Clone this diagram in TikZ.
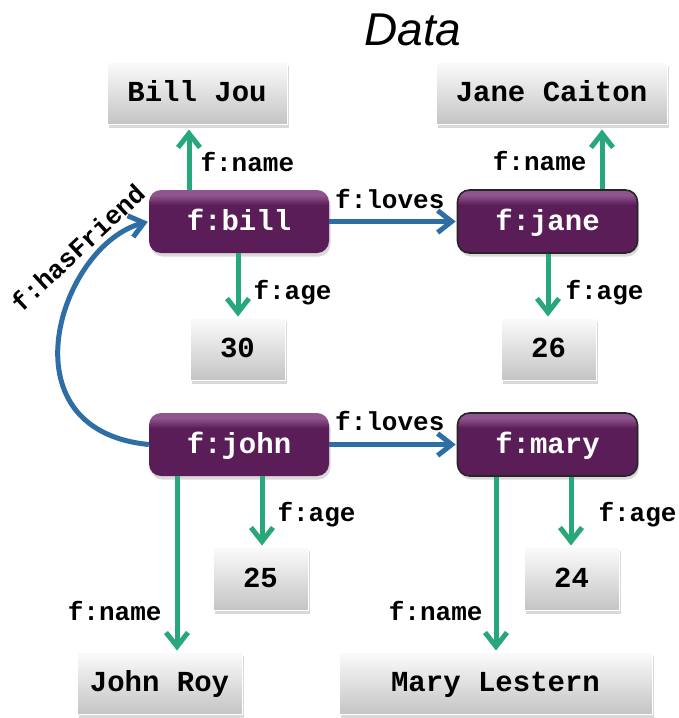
\documentclass[tikz,border=0pt]{standalone}
\usepackage{fontspec}
\setmainfont{Liberation Serif}
\setsansfont{Liberation Sans}
\setmonofont{Liberation Mono}
\usetikzlibrary{arrows.meta,shadows}

\definecolor{propgreen}{RGB}{40,168,122}
\definecolor{relblue}{RGB}{47,110,165}
\definecolor{resdark}{RGB}{90,29,88}
\definecolor{reslight}{RGB}{145,85,142}

% resource boxes: dark purple with a light band along the top edge
\pgfdeclareverticalshading{resshade}{100bp}{%
  color(0bp)=(resdark); color(25bp)=(resdark); color(63bp)=(resdark);
  color(71bp)=(reslight); color(75bp)=(reslight); color(100bp)=(reslight)}

\tikzset{
  boxshadow/.style={drop shadow={shadow xshift=1.5pt,shadow yshift=-3.5pt,opacity=0.3}},
  valbox/.style={rectangle, inner sep=0pt, top color=gray!3, bottom color=gray!46,
    draw=white, line width=1pt, boxshadow,
    font=\ttfamily\bfseries\fontsize{29}{30}\selectfont, text height=17pt, text depth=0pt},
  resbox/.style={rectangle, rounded corners=12pt, inner sep=0pt,
    minimum width=180pt, minimum height=63pt, shading=resshade, boxshadow,
    text=white, font=\ttfamily\bfseries\fontsize{29}{30}\selectfont,
    text height=17pt, text depth=0pt},
  outlined/.style={draw=black!85, line width=1.6pt},
  tipshape/.style={-{Straight Barb[length=14pt,width=22pt]}},
  prop/.style={draw=propgreen, line width=5pt, tipshape},
  rel/.style={draw=relblue, line width=5pt, tipshape},
  lbl/.style={inner sep=0pt, text=black, font=\ttfamily\bfseries\fontsize{26}{27}\selectfont,
    text height=15pt, text depth=0pt},
}

\begin{document}
\begin{tikzpicture}[x=1pt,y=-1pt]
\useasboundingbox (0,0) rectangle (679,718);

\node[font=\sffamily\itshape\fontsize{46}{48}\selectfont] (title) at (413,30) {Data};

% literal values
\node[valbox, minimum width=180pt, minimum height=62pt] (billname) at (197,93) {Bill Jou};
\node[valbox, minimum width=231pt, minimum height=62pt] (janename) at (551.5,93) {Jane Caiton};
\node[valbox, minimum width=95pt, minimum height=62pt] (billage) at (237.5,349) {30};
\node[valbox, minimum width=95pt, minimum height=62pt] (janeage) at (548.5,349) {26};
\node[valbox, minimum width=95pt, minimum height=63pt] (johnage) at (260.5,578.5) {25};
\node[valbox, minimum width=95pt, minimum height=63pt] (maryage) at (571.5,578.5) {24};
\node[valbox, minimum width=165pt, minimum height=62pt] (johnname) at (159.5,683) {John Roy};
\node[valbox, minimum width=313pt, minimum height=62pt] (maryname) at (495.5,683) {Mary Lestern};

% resources
\node[resbox] (bill) at (239,221.5) {f:bill};
\node[resbox, outlined] (jane) at (547.5,221.5) {f:jane};
\node[resbox] (john) at (239,444.5) {f:john};
\node[resbox, outlined] (mary) at (547.5,444.5) {f:mary};

% name properties
\draw[prop, shorten >=5pt] ([xshift=-50pt]bill.north) -- ([xshift=-50pt]bill.north |- billname.south)
  node[lbl, pos=0.40, right=9pt] {f:name};
\draw[prop, shorten >=5pt] ([xshift=54.5pt]jane.north) -- ([xshift=54.5pt]jane.north |- janename.south)
  node[lbl, pos=0.41, left=13pt] {f:name};
\draw[prop, shorten >=1pt] ([xshift=-62pt]john.south) -- ([xshift=-62pt]john.south |- johnname.north)
  node[lbl, pos=0.78, left=13pt] {f:name};
\draw[prop, shorten >=1pt] ([xshift=-51.5pt]mary.south) -- ([xshift=-51.5pt]mary.south |- maryname.north)
  node[lbl, pos=0.78, left=11pt] {f:name};

% age properties
\draw[prop, shorten >=1pt] ([xshift=-1pt]bill.south) -- ([xshift=-1pt]bill.south |- billage.north)
  node[lbl, pos=0.6, right=13pt] {f:age};
\draw[prop, shorten >=1pt] ([xshift=0.5pt]jane.south) -- ([xshift=0.5pt]jane.south |- janeage.north)
  node[lbl, pos=0.6, right=15pt] {f:age};
\draw[prop, shorten >=1pt] ([xshift=23pt]john.south) -- ([xshift=23pt]john.south |- johnage.north)
  node[lbl, pos=0.535, right=13pt] {f:age};
\draw[prop, shorten >=1pt] ([xshift=23.5pt]mary.south) -- ([xshift=23.5pt]mary.south |- maryage.north)
  node[lbl, pos=0.535, right=25pt] {f:age};

% relations between resources
\draw[rel, shorten >=1pt] (bill.east) -- (jane.west)
  node[lbl, pos=0.475, above=11pt] {f:loves};
\draw[rel, shorten >=1pt] (john.east) -- (mary.west)
  node[lbl, pos=0.475, above=12pt] {f:loves};
\draw[rel, shorten >=1pt] (john.west) .. controls (0,430) and (60,245) .. (bill.west);
\node[lbl, rotate=43] (friendlbl) at (79,249) {f:hasFriend};
\end{tikzpicture}
\end{document}
